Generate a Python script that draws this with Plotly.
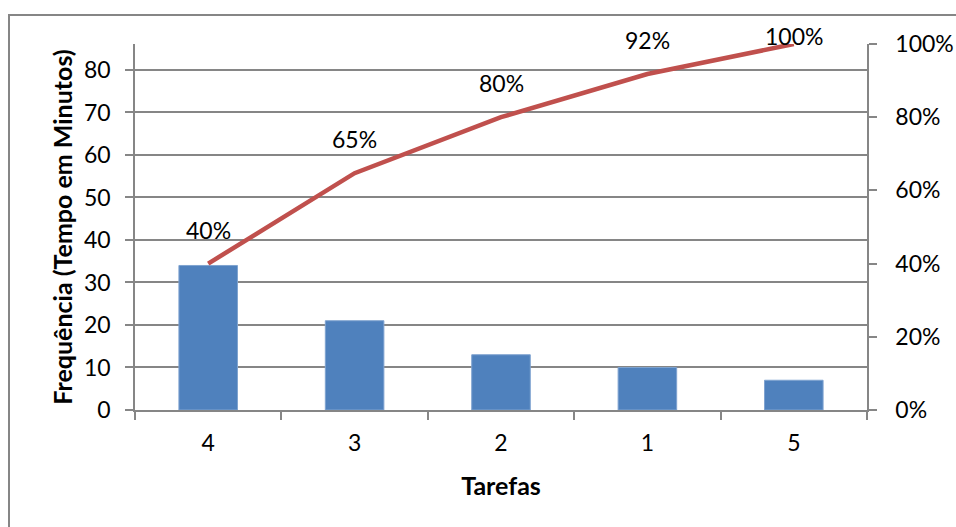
import plotly.graph_objects as go

tarefas = ["4", "3", "2", "1", "5"]
tempo = [34, 21, 13, 10, 7]
acumulado = [0.40, 0.647, 0.80, 0.918, 1.00]
rotulos = ["40%", "65%", "80%", "92%", "100%"]
rotulo_shift = [34, 34, 34, 34, 8]

FONT = "Lato"
GRAY = "#868686"

fig = go.Figure()
fig.add_trace(go.Bar(x=tarefas, y=tempo, marker=dict(color="#4F81BD", line=dict(color="#7FA3D0", width=1)),
                     width=0.4, yaxis="y"))
fig.add_trace(go.Scatter(x=tarefas, y=acumulado, mode="lines", line=dict(color="#C0504D", width=4.5),
                         yaxis="y2"))

for i, (a, r, s) in enumerate(zip(acumulado, rotulos, rotulo_shift)):
    fig.add_annotation(x=i, y=a, xref="x", yref="y2", text=r, showarrow=False, yshift=s,
                       font=dict(family=FONT, size=23, color="black"))

fig.add_shape(type="rect", xref="paper", yref="paper",
              x0=(9 - 135) / 732, x1=(1000 - 135) / 732,
              y0=(410 - 560) / 366, y1=(410 - 15) / 366,
              line=dict(color=GRAY, width=2), layer="below")

fig.update_layout(
    width=956, height=527,
    margin=dict(l=135, r=89, t=44, b=117, autoexpand=False),
    paper_bgcolor="white", plot_bgcolor="white",
    showlegend=False,
    font=dict(family=FONT, size=23, color="black"),
    xaxis=dict(type="category", range=[-0.5, 4.5], showline=True, linecolor=GRAY, linewidth=1.5,
               ticks="outside", tickson="boundaries", ticklen=8, tickcolor=GRAY, tickwidth=1.5,
               showgrid=False, ticklabelstandoff=12, automargin=False,
               title=dict(text="<b>Tarefas</b>", font=dict(family=FONT, size=25), standoff=22)),
    yaxis=dict(range=[0, 86.1], tickvals=[0, 10, 20, 30, 40, 50, 60, 70, 80], showline=True,
               linecolor=GRAY, linewidth=1.5, ticks="outside", ticklen=8, tickcolor=GRAY, tickwidth=1.5,
               showgrid=True, gridcolor=GRAY, gridwidth=1.5, zeroline=False, ticklabelstandoff=10,
               automargin=False,
               title=dict(text="<b>Frequência (Tempo em Minutos)</b>", font=dict(family=FONT, size=25), standoff=4)),
    yaxis2=dict(range=[0, 1], overlaying="y", side="right", tickvals=[0, 0.2, 0.4, 0.6, 0.8, 1.0],
                tickformat=".0%", showline=True, linecolor=GRAY, linewidth=1.5, ticks="outside",
                ticklen=8, tickcolor=GRAY, tickwidth=1.5, showgrid=False, zeroline=False,
                ticklabelstandoff=14, automargin=False),
)

fig.write_html("out.html")
